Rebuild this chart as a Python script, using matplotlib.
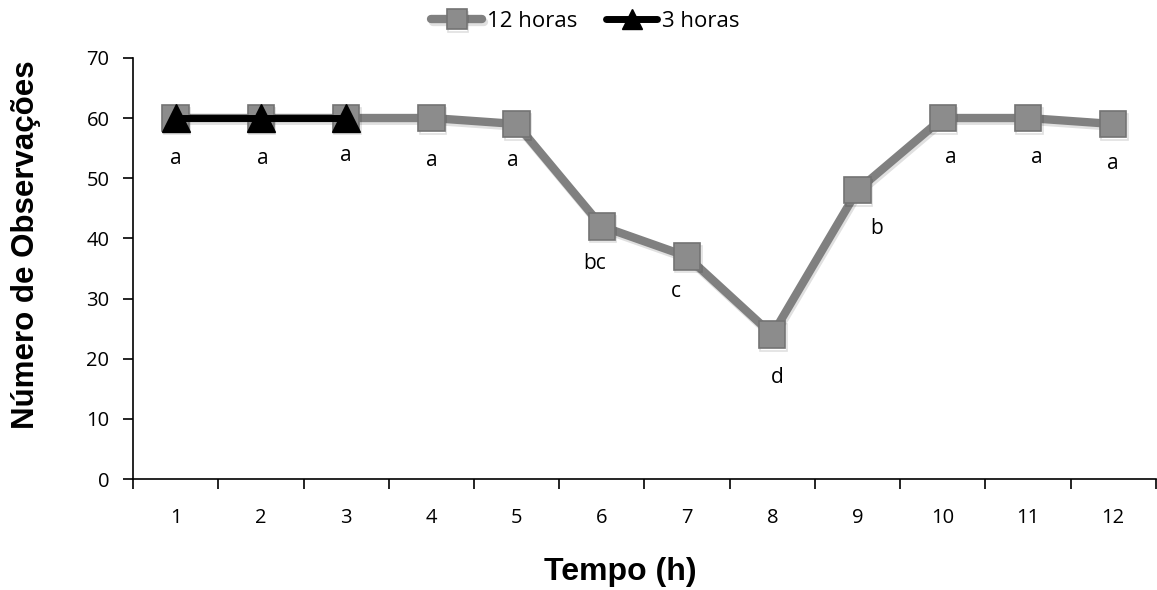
import numpy as np
import matplotlib
matplotlib.use("Agg")
import matplotlib.pyplot as plt
import matplotlib.patheffects as pe

# data
tempo = [1, 2, 3, 4, 5, 6, 7, 8, 9, 10, 11, 12]
obs_12h = [60, 60, 60, 60, 59, 42, 37, 24, 48, 60, 60, 59]
tempo_3h = [1, 2, 3]
obs_3h = [60, 60, 60]
letras = ["a", "a", "a", "a", "a", "bc", "c", "d", "b", "a", "a", "a"]
# label positions (x, y) in data coords
letra_x = [1.0, 2.02, 3.0, 4.0, 4.95, 5.92, 6.87, 8.06, 9.22, 10.1, 11.1, 12.0]
letra_y = [53.2, 53.2, 53.8, 52.9, 52.9, 35.9, 31.1, 16.8, 41.7, 53.5, 53.5, 52.5]

tick_font = "Open Sans"
title_font = "Liberation Sans"

W, H = 1157, 590
fig = plt.figure(figsize=(W / 100, H / 100), dpi=100)
ax = fig.add_axes([0.115, 0.188, 0.884, 0.714])

shadow = [pe.SimpleLineShadow(offset=(1, -2), shadow_color="#000000", alpha=0.12), pe.Normal()]

ax.plot(tempo, obs_12h, color="#808080", lw=6, marker="s", ms=19,
        mfc="#8c8c8c", mec="#737373", mew=1.2, label="12 horas",
        solid_capstyle="round", zorder=3, path_effects=shadow)
ax.plot(tempo_3h, obs_3h, color="#000000", lw=5, marker="^", ms=20,
        mfc="#000000", mec="#000000", label="3 horas",
        solid_capstyle="round", zorder=4)

for x, y, t in zip(letra_x, letra_y, letras):
    ax.text(x, y, t, ha="center", va="center", fontsize=15, family=tick_font)

ax.set_xlim(0.5, 12.5)
ax.set_ylim(0, 70)
ax.set_yticks(np.arange(0, 71, 10))
ax.set_xticks(np.arange(0.5, 12.6, 1))
ax.set_xticklabels([])
ax.set_xticks(tempo, minor=True)
ax.set_xticklabels([str(t) for t in tempo], minor=True)
ax.tick_params(axis="x", which="major", direction="out", length=7, width=1.2)
ax.tick_params(axis="x", which="minor", length=0, pad=21, labelsize=14.5)
ax.tick_params(axis="y", direction="out", length=7, width=1.2, labelsize=14.5, pad=10)
for lab in ax.get_xticklabels(minor=True) + ax.get_yticklabels():
    lab.set_family(tick_font)

ax.spines["top"].set_visible(False)
ax.spines["right"].set_visible(False)
ax.spines["left"].set_linewidth(1.2)
ax.spines["bottom"].set_linewidth(1.2)

# axis titles placed where the reference has them
fig.text(620 / W, 1 - 572 / H, "Tempo (h)", ha="center", va="center",
         fontsize=23, fontweight="bold", family=title_font)
fig.text(26 / W, 1 - 245 / H, "Número de Observações", ha="center", va="center",
         rotation=90, fontsize=22.5, fontweight="bold", family=title_font)

leg = ax.legend(loc="center", bbox_to_anchor=(0.442, 1.087), ncol=2, frameon=False,
                prop={"family": tick_font, "size": 16}, handlelength=2.3,
                handletextpad=0.2, columnspacing=1.3, markerscale=0.75,
                borderpad=0)

fig.savefig("out.png", dpi=100, facecolor="white")
